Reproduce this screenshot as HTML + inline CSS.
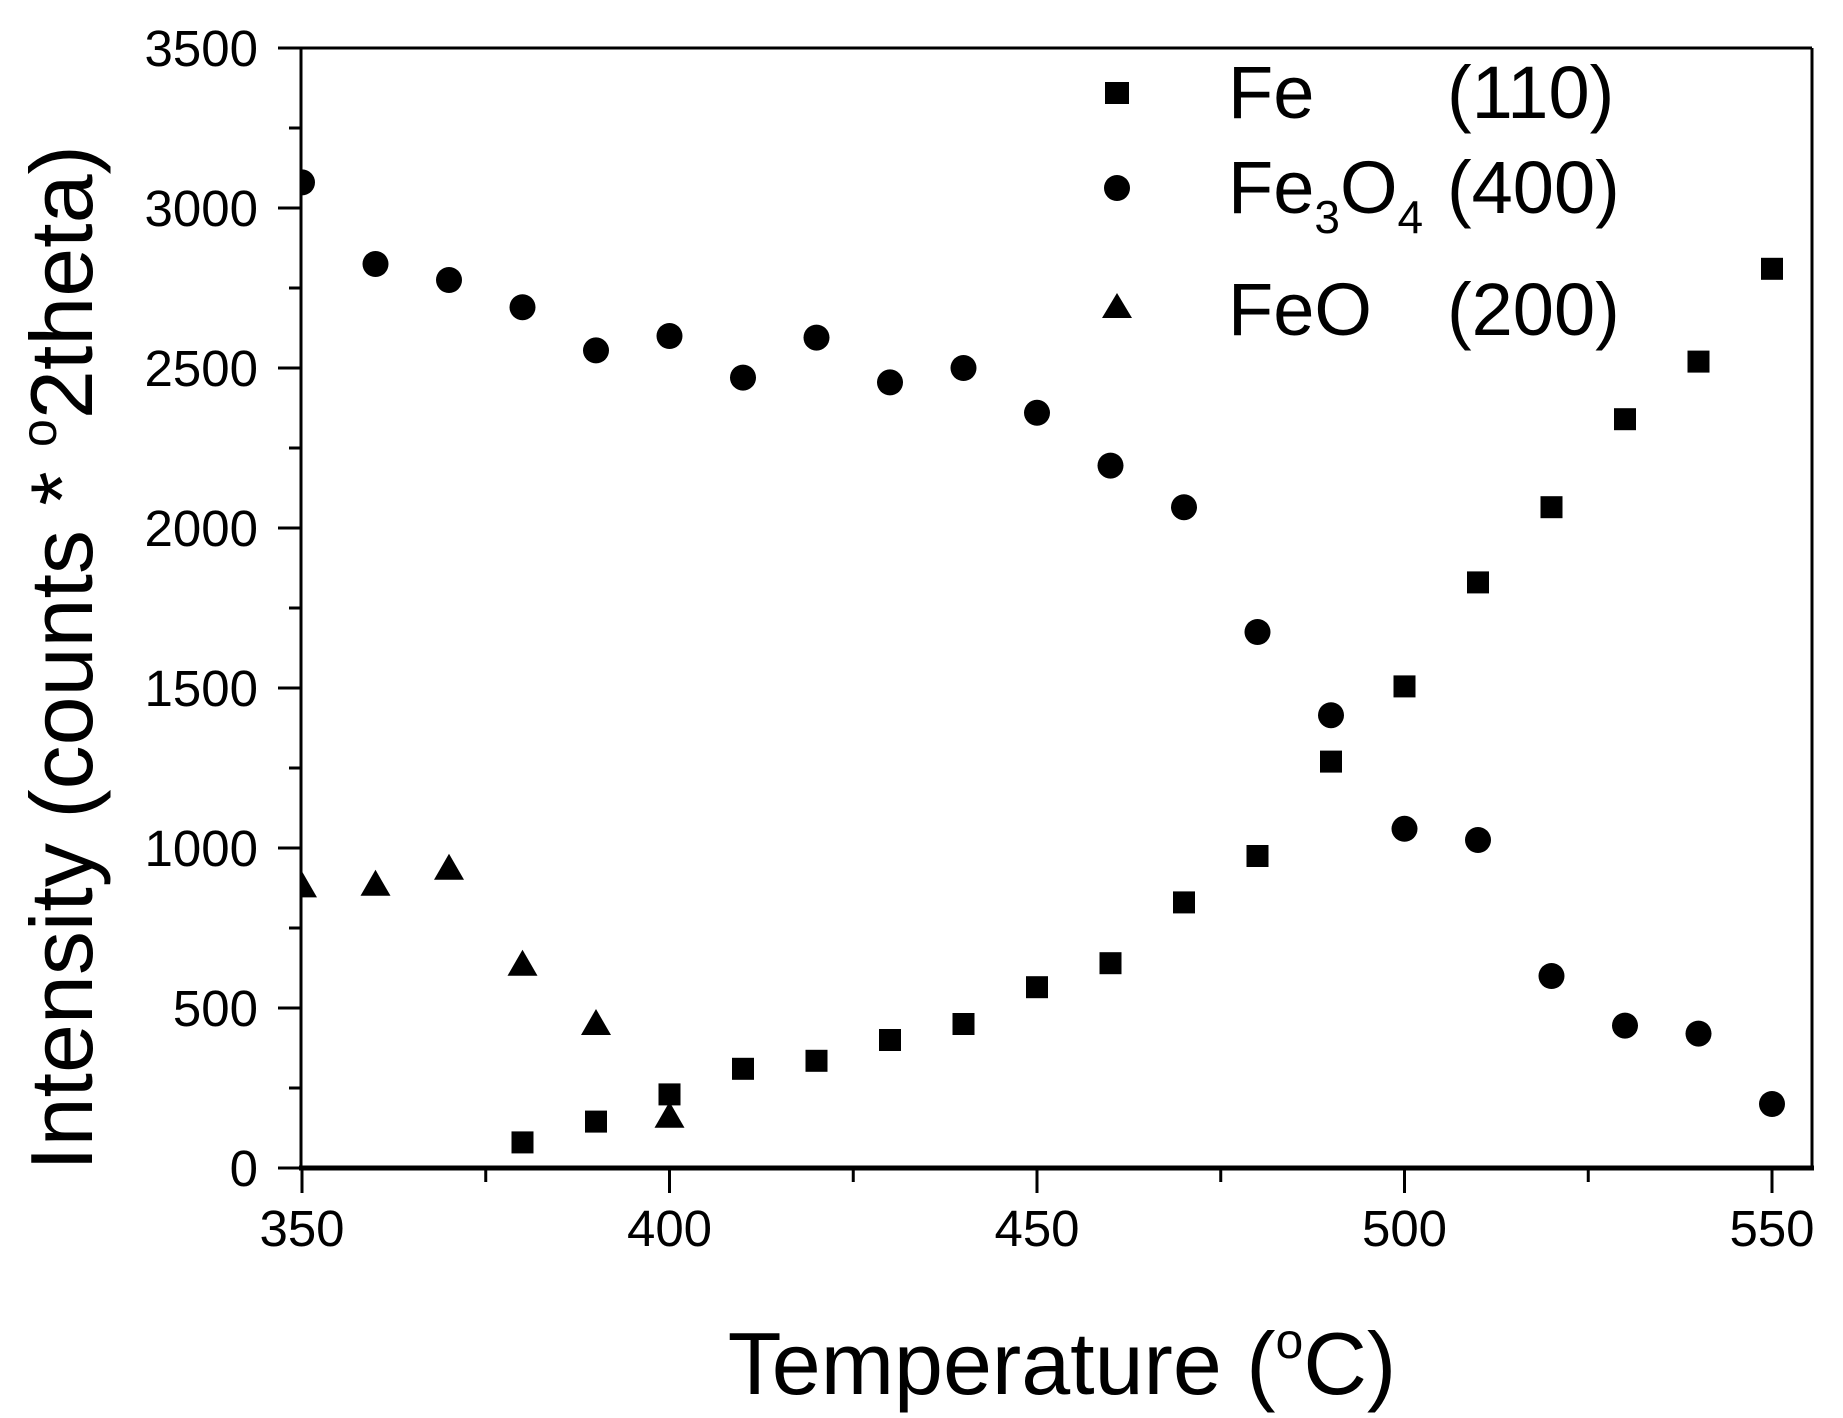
<!DOCTYPE html>
<html><head><meta charset="utf-8"><style>
html,body{margin:0;padding:0;background:#fff;}
svg{display:block;font-family:"Liberation Sans",sans-serif;}
</style></head><body>
<svg width="1843" height="1418" viewBox="0 0 1843 1418" xmlns="http://www.w3.org/2000/svg">
<defs><clipPath id="c"><rect x="302" y="48" width="1515" height="1120"/></clipPath></defs>
<rect width="1843" height="1418" fill="#fff"/>
<g stroke="#000" fill="none">
<line x1="301" y1="48" x2="301" y2="1168" stroke-width="3"/>
<line x1="301" y1="48" x2="1812" y2="48" stroke-width="3"/>
<line x1="1812" y1="48" x2="1812" y2="1168" stroke-width="3"/>
<line x1="299" y1="1168" x2="1814" y2="1168" stroke-width="5"/>
</g>
<g id="ticks" stroke="#000" stroke-width="3"></g>
<g font-size="51" text-anchor="end" id="yl"></g>
<g font-size="51" text-anchor="middle" id="xl"></g>
<text x="1062" y="1394" font-size="88" text-anchor="middle">Temperature (<tspan font-size="50" dy="-36">o</tspan><tspan dy="36">C)</tspan></text>
<text transform="translate(92,658) rotate(-90)" font-size="88" text-anchor="middle">Intensity (counts * <tspan font-size="50" dy="-36">o</tspan><tspan dy="36">2theta)</tspan></text>
<g id="pts" clip-path="url(#c)" fill="#000"></g>
<g font-size="74">
<rect x="1105" y="82" width="24" height="22" fill="#000"/>
<text x="1228" y="118">Fe</text><text x="1447" y="118">(110)</text>
<circle cx="1117" cy="188" r="13" fill="#000"/>
<text x="1228" y="213">Fe<tspan font-size="46" dy="20">3</tspan><tspan dy="-20">O</tspan><tspan font-size="46" dy="20">4</tspan></text><text x="1447" y="213">(400)</text>
<polygon points="1117,293 1132,318 1102,318" fill="#000"/>
<text x="1228" y="335">FeO</text><text x="1447" y="335">(200)</text>
</g>
<script>
var ns="http://www.w3.org/2000/svg";
function el(p,t,a,txt){var e=document.createElementNS(ns,t);for(var k in a)e.setAttribute(k,a[k]);if(txt!=null)e.textContent=txt;document.getElementById(p).appendChild(e);}
function X(t){return 302+(t-350)*7.35;}
function Y(v){return 1168-v*0.32;}
for(var v=0;v<=3500;v+=250){var y=Y(v),maj=v%500==0;el("ticks","line",{x1:maj?278:289,y1:y,x2:301,y2:y});if(maj)el("yl","text",{x:258,y:y+18},""+v);}
for(var t=350;t<=550;t+=25){var x=X(t),maj=t%50==0;el("ticks","line",{x1:x,y1:1168,x2:x,y2:maj?1193:1182});if(maj)el("xl","text",{x:x,y:1246},""+t);}
var fe={380:80,390:145,400:230,410:310,420:335,430:400,440:450,450:565,460:640,470:830,480:975,490:1270,500:1505,510:1830,520:2065,530:2340,540:2520,550:2810};
var fo={350:3080,360:2825,370:2775,380:2690,390:2555,400:2600,410:2470,420:2595,430:2455,440:2500,450:2360,460:2195,470:2065,480:1675,490:1415,500:1060,510:1025,520:600,530:445,540:420,550:200};
var feo={350:880,360:885,370:935,380:635,390:450,400:160};
for(var k in fe)el("pts","rect",{x:X(+k)-11,y:Y(fe[k])-11,width:22,height:22});
for(var k in fo)el("pts","circle",{cx:X(+k),cy:Y(fo[k]),r:13});
for(var k in feo){var x=X(+k),y=Y(feo[k]);el("pts","polygon",{points:x+","+(y-15)+" "+(x+15)+","+(y+11)+" "+(x-15)+","+(y+11)});}
</script>
</svg>
</body></html>
